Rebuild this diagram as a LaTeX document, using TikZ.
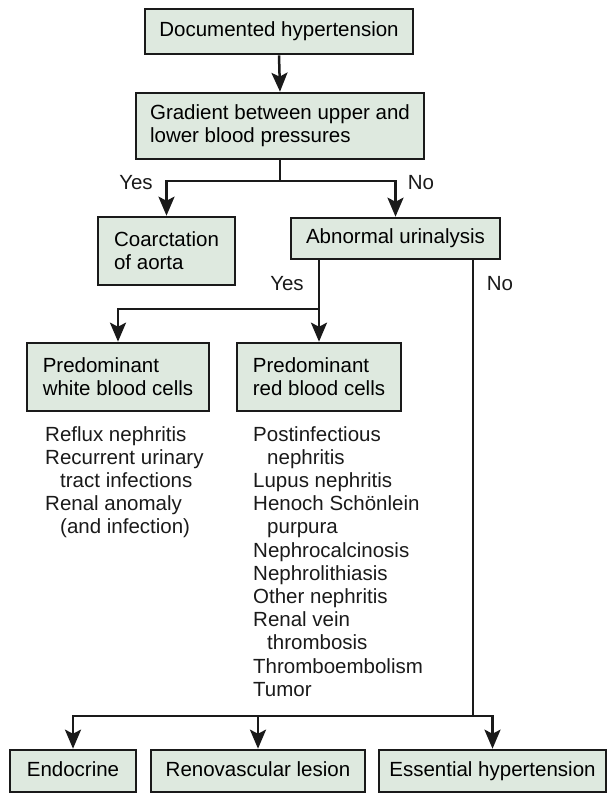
\documentclass[tikz,border=0pt]{standalone}
\usepackage{fontspec}
\setmainfont{Liberation Sans}
\usetikzlibrary{arrows.meta}
\definecolor{boxfill}{RGB}{222,233,223}
\definecolor{ink}{RGB}{26,26,26}

\begin{document}
\begin{tikzpicture}[x=1pt, y=-1pt,
    font=\fontsize{20.5}{23.2}\selectfont,
    box/.style={draw=ink, fill=boxfill, line width=2.6pt, inner sep=0pt, align=left},
    single/.style={text height=15pt, text depth=4.5pt},
    arr/.style={-{Stealth[length=19pt, width=16pt, inset=4pt]}},
    lbl/.style={inner sep=0pt, text=ink},
    wire/.style={draw=ink, line width=2.5pt}]
    	\useasboundingbox (0, 0) rectangle (608, 797);
    	% Boxes:
    	\node[box, single, minimum width=268, minimum height=45] (doc) at (279, 31.5){Documented hypertension};
    	\node[box, minimum width=288, minimum height=66] (grad) at (280, 126){Gradient between upper and\\lower blood pressures};
    	\node[box, minimum width=137, minimum height=68] (coarc) at (166.5, 251){Coarctation\\of aorta};
    	\node[box, single, minimum width=209, minimum height=41] (abn) at (395.5, 238.5){Abnormal urinalysis};
    	\node[box, minimum width=182, minimum height=68] (wbc) at (118, 377){Predominant\\white blood cells};
    	\node[box, minimum width=164, minimum height=68] (rbc) at (319, 377){Predominant\\red blood cells};
    	\node[box, single, minimum width=126, minimum height=42] (endo) at (73, 771){Endocrine};
    	\node[box, single, minimum width=214, minimum height=42] (reno) at (258, 771){Renovascular lesion};
    	\node[box, single, minimum width=227, minimum height=42] (ess) at (492.5, 771){Essential hypertension};
    	% Lists:
    	\node[lbl, align=left, anchor=north west] (wlist) at (45, 426){Reflux nephritis\\Recurrent urinary\\\hspace*{15pt}tract infections\\Renal anomaly\\\hspace*{15pt}(and infection)};
    	\node[lbl, align=left, anchor=north west] (rlist) at (253, 426){Postinfectious\\\hspace*{14pt}nephritis\\Lupus nephritis\\Henoch Schönlein\\\hspace*{14pt}purpura\\Nephrocalcinosis\\Nephrolithiasis\\Other nephritis\\Renal vein\\\hspace*{14pt}thrombosis\\Thromboembolism\\Tumor};
    	% Labels:
    	\node[lbl] (yes1) at (136, 183){Yes};
    	\node[lbl] (no1) at (421, 183){No};
    	\node[lbl] (yes2) at (287, 284){Yes};
    	\node[lbl] (no2) at (500, 284){No};
    	% Branch points:
    	\coordinate (b1) at (280, 181);
    	\coordinate (b2) at (319, 309);
    	\coordinate (b3) at (473, 716);
    	% Paths and wires:
    	\draw[wire, arr] (doc.south) -- (grad.north);
    	\draw[wire] (grad.south) -- (b1);
    	\draw[wire, arr] (b1) -| (coarc.north);
    	\draw[wire, arr] (b1) -| (abn.north);
    	\draw[wire] (abn.south -| b2) -- (b2);
    	\draw[wire, arr] (b2) -| (wbc.north);
    	\draw[wire, arr] (b2) -- (rbc.north);
    	\draw[wire] (abn.south -| b3) -- (b3);
    	\draw[wire, arr] (b3) -| (endo.north);
    	\draw[wire, arr] (reno.north |- b3) -- (reno.north);
    	\draw[wire, arr] (b3) -| (ess.north);
    \end{tikzpicture}
\end{document}
